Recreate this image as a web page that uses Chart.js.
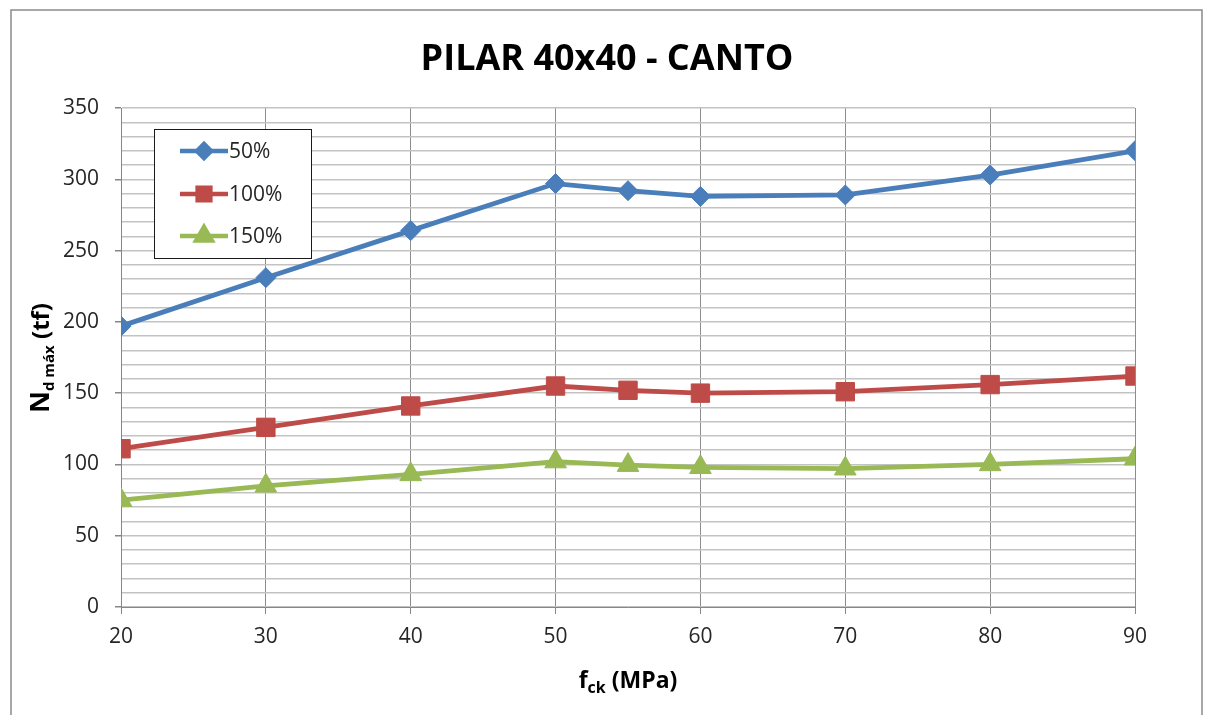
<!DOCTYPE html>
<html>
<head>
<meta charset="utf-8">
<title>PILAR 40x40 - CANTO</title>
<script src="https://cdn.jsdelivr.net/npm/chart.js@4.4.1/dist/chart.umd.min.js"></script>
<style>
  html, body { margin: 0; padding: 0; background: #fff; }
  #wrap { width: 1206px; height: 715px; position: relative; }
</style>
</head>
<body>
<div id="wrap"><canvas id="c" width="1206" height="715"></canvas></div>
<script>
// f_ck values (MPa)
const fck = [20, 30, 40, 50, 55, 60, 70, 80, 90];
// Maximum design axial load N_d,máx (tf) per series
const serie50 = [197, 231, 264, 297, 292, 288, 289, 303, 320];
const serie100 = [111, 126, 141, 155, 152, 150, 151, 156, 162];
const serie150 = [75, 85, 93, 102, 99.5, 98, 97, 100, 104];
const seriesNames = ['50%', '100%', '150%'];
const yTickLabels = [0, 50, 100, 150, 200, 250, 300, 350];

const FONT = "'Open Sans', 'DejaVu Sans', sans-serif";
const TEXT = '#262626';

const toPoints = vals => vals.map((v, i) => ({ x: fck[i], y: v }));

// Frame, title, axis titles with subscripts and the boxed legend
const decorations = {
  id: 'decorations',
  beforeDraw(chart) {
    const ctx = chart.ctx;
    ctx.save();
    ctx.fillStyle = '#fff';
    ctx.fillRect(0, 0, chart.width, chart.height);
    ctx.strokeStyle = '#8a8a8a';
    ctx.lineWidth = 1.5;
    ctx.beginPath();
    ctx.moveTo(11, 716);
    ctx.lineTo(11, 10);
    ctx.lineTo(1202, 10);
    ctx.lineTo(1202, 716);
    ctx.stroke();
    ctx.restore();
  },
  afterDraw(chart) {
    const ctx = chart.ctx;
    const area = chart.chartArea;
    ctx.save();
    ctx.fillStyle = '#000';
    ctx.textBaseline = 'alphabetic';

    // chart title
    ctx.font = 'bold 36px ' + FONT;
    ctx.textAlign = 'center';
    ctx.fillText('PILAR 40x40 - CANTO', 607, 70);

    // x-axis title: f_ck (MPa)
    const xParts = [
      { t: 'f', size: 23, dy: 0 },
      { t: 'ck', size: 16, dy: 5 },
      { t: ' (MPa)', size: 23, dy: 0 }
    ];
    drawParts(ctx, xParts, (area.left + area.right) / 2, 688);

    // y-axis title: N_d máx (tf), rotated
    ctx.save();
    ctx.translate(49, 358);
    ctx.rotate(-Math.PI / 2);
    const yParts = [
      { t: 'N', size: 27, dy: 0 },
      { t: 'd máx', size: 15, dy: 5 },
      { t: ' (tf)', size: 24, dy: 0 }
    ];
    drawParts(ctx, yParts, 0, 0);
    ctx.restore();

    // legend box
    const bx = 154, by = 129, bw = 157, bh = 129;
    ctx.fillStyle = '#fff';
    ctx.fillRect(bx, by, bw, bh);
    ctx.strokeStyle = '#1a1a1a';
    ctx.lineWidth = 1;
    ctx.strokeRect(bx + 0.5, by + 0.5, bw, bh);
    const rows = [151, 194, 236];
    const legendRadius = [7, 9, 9];
    chart.data.datasets.forEach((ds, i) => {
      const y = rows[i];
      ctx.strokeStyle = ds.borderColor;
      ctx.lineWidth = 4.5;
      ctx.lineCap = 'butt';
      ctx.beginPath();
      ctx.moveTo(180, y);
      ctx.lineTo(228, y);
      ctx.stroke();
      Chart.helpers.drawPoint(ctx, {
        pointStyle: ds.pointStyle,
        radius: legendRadius[i],
        borderWidth: 1
      }, 204, y);
      ctx.fillStyle = ds.borderColor;
      ctx.fill();
      ctx.fillStyle = TEXT;
      ctx.font = '21px ' + FONT;
      ctx.textAlign = 'left';
      ctx.textBaseline = 'middle';
      ctx.fillText(ds.label, 229, y + 1);
    });
    ctx.restore();
  }
};

function drawParts(ctx, parts, cx, baseline) {
  let total = 0;
  parts.forEach(p => {
    ctx.font = 'bold ' + p.size + 'px ' + FONT;
    p.w = ctx.measureText(p.t).width;
    total += p.w;
  });
  let x = cx - total / 2;
  ctx.textAlign = 'left';
  ctx.textBaseline = 'alphabetic';
  parts.forEach(p => {
    ctx.font = 'bold ' + p.size + 'px ' + FONT;
    ctx.fillText(p.t, x, baseline + p.dy);
    x += p.w;
  });
}

const datasets = [
  { label: seriesNames[0], data: toPoints(serie50), borderColor: '#4A7EBB', backgroundColor: '#4A7EBB', pointStyle: 'rectRot', pointRadius: 10 },
  { label: seriesNames[1], data: toPoints(serie100), borderColor: '#BE4B48', backgroundColor: '#BE4B48', pointStyle: 'rect', pointRadius: 13 },
  { label: seriesNames[2], data: toPoints(serie150), borderColor: '#98B954', backgroundColor: '#98B954', pointStyle: 'triangle', pointRadius: 12.5 }
].map(d => Object.assign(d, {
  borderWidth: 4.8,
  pointBorderWidth: 1,
  pointHoverRadius: d.pointRadius,
  tension: 0,
  fill: false
}));

new Chart(document.getElementById('c'), {
  type: 'line',
  data: { datasets },
  plugins: [decorations],
  options: {
    responsive: false,
    animation: false,
    events: [],
    layout: { padding: { left: 0, right: 71, top: 108, bottom: 0 } },
    plugins: { legend: { display: false }, title: { display: false }, tooltip: { enabled: false } },
    scales: {
      x: {
        type: 'linear',
        min: 20,
        max: 90,
        afterFit: s => { s.height = 108; },
        border: { color: '#868686', width: 1 },
        grid: { color: '#8c8c8c', lineWidth: 1, tickLength: 7, tickColor: '#868686' },
        ticks: {
          stepSize: 10,
          autoSkip: false,
          maxRotation: 0,
          padding: 10,
          color: TEXT,
          font: { family: FONT, size: 21 }
        }
      },
      y: {
        min: 0,
        max: 350,
        afterFit: s => { s.width = 121; },
        border: { color: '#868686', width: 1 },
        grid: {
          color: '#c3c3c3',
          lineWidth: 1.5,
          tickLength: 6,
          tickColor: ctx => (ctx.tick && yTickLabels.includes(ctx.tick.value)) ? '#868686' : 'rgba(0,0,0,0)'
        },
        ticks: {
          stepSize: 10,
          autoSkip: false,
          padding: 16,
          color: TEXT,
          font: { family: FONT, size: 21 },
          callback: v => yTickLabels.includes(v) ? String(v) : ''
        }
      }
    }
  }
});
</script>
</body>
</html>
